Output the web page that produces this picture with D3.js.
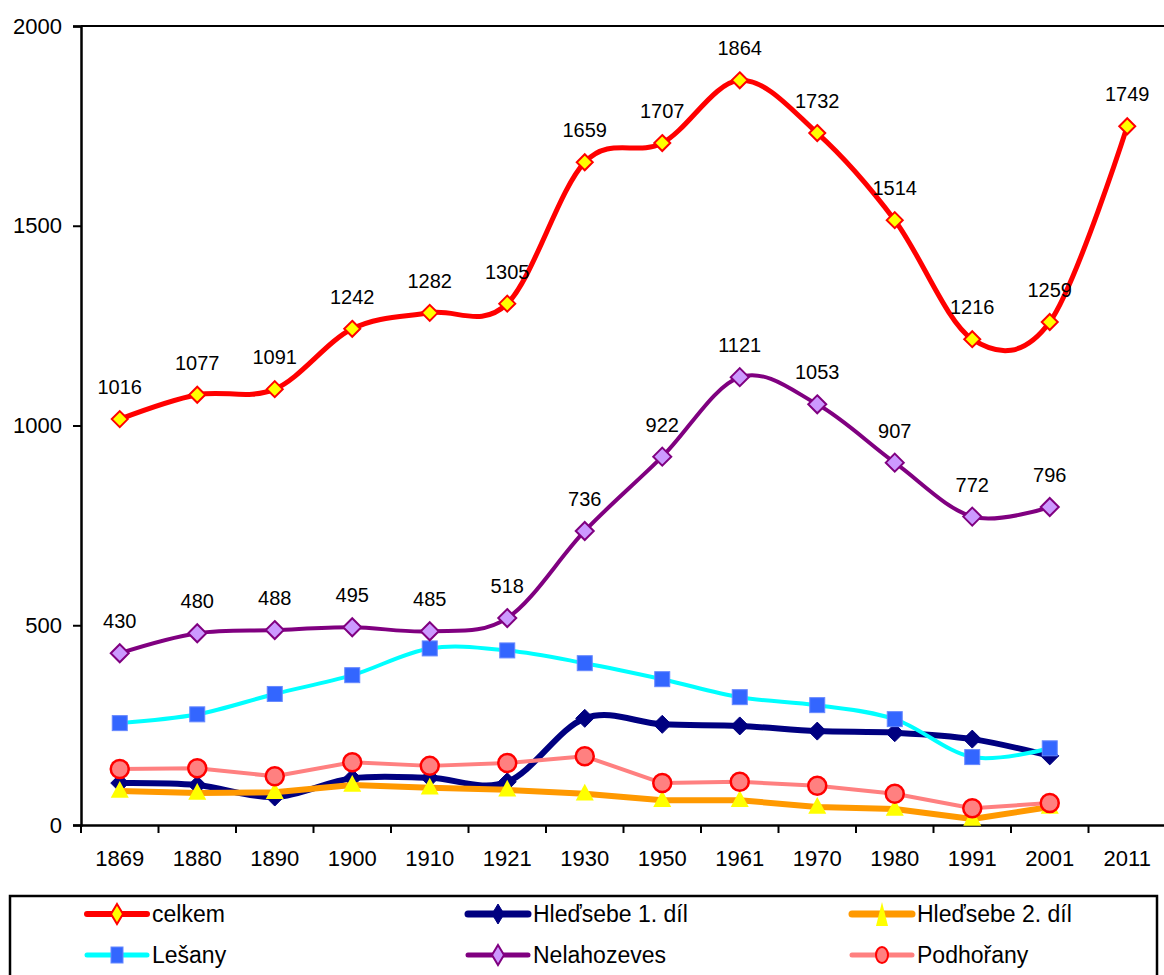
<!DOCTYPE html>
<html>
<head>
<meta charset="utf-8">
<script src="https://cdn.jsdelivr.net/npm/d3@7"></script>
<style>
  html, body { margin: 0; padding: 0; background: #fff; }
  svg { display: block; font-family: Arial, "Liberation Sans", sans-serif; }
</style>
</head>
<body>
<svg id="chart" width="1164" height="975"></svg>
<script>
const years = ["1869","1880","1890","1900","1910","1921","1930","1950","1961","1970","1980","1991","2001","2011"];
const yTicks = [0, 500, 1000, 1500, 2000];

const celkem       = [1016,1077,1091,1242,1282,1305,1659,1707,1864,1732,1514,1216,1259,1749];
const hledsebe1    = [105,100,70,117,118,108,267,252,248,235,231,215,173,null];
const hledsebe2    = [85,80,82,100,93,88,78,62,62,45,40,15,45,null];
const lesany       = [255,277,328,375,442,437,405,365,320,300,265,170,192,null];
const nelahozeves  = [430,480,488,495,485,518,736,922,1121,1053,907,772,796,null];
const podhorany    = [140,142,122,157,148,155,172,105,108,98,78,42,55,null];

const seriesNames = ["celkem","Hleďsebe 1. díl","Hleďsebe 2. díl","Lešany","Nelahozeves","Podhořany"];

const styles = [
  {data: celkem, line: "#ff0000", width: 5, marker: "diamond", size: 8, fill: "#ffff00", stroke: "#ff0000", sw: 2, smooth: true, labels: true},
  {data: hledsebe1, line: "#000080", width: 6, marker: "diamond", size: 9, fill: "#000080", stroke: "#000080", sw: 1, smooth: true, labels: false},
  {data: hledsebe2, line: "#ff9900", width: 6, marker: "triangle", size: 9, fill: "#ffff00", stroke: "none", sw: 0, smooth: false, labels: false},
  {data: lesany, line: "#00ffff", width: 4, marker: "square", size: 7.5, fill: "#3366ff", stroke: "#6688ff", sw: 1, smooth: true, labels: false},
  {data: nelahozeves, line: "#800080", width: 4, marker: "diamond", size: 9, fill: "#cc99ff", stroke: "#800080", sw: 2, smooth: true, labels: true},
  {data: podhorany, line: "#ff8080", width: 4, marker: "circle", size: 9, fill: "#ff8080", stroke: "#ff0000", sw: 2.5, smooth: false, labels: false}
];

const svg = d3.select("#chart");
const plotLeft = 81, plotRight = 1166, plotTop = 26, plotBottom = 825;

const x = d3.scaleBand().domain(years).range([plotLeft, plotRight]).padding(0);
const y = d3.scaleLinear().domain([0, 2000]).range([plotBottom, plotTop]);

// top border of plot
svg.append("line").attr("x1", plotLeft).attr("x2", 1164).attr("y1", plotTop).attr("y2", plotTop)
  .attr("stroke", "#000").attr("stroke-width", 2);

// y axis
const yAxis = svg.append("g").attr("transform", `translate(${plotLeft},0)`)
  .call(d3.axisLeft(y).tickValues(yTicks).tickSize(8).tickPadding(11).tickFormat(d3.format("d")));
yAxis.select(".domain").attr("stroke", "#000").attr("stroke-width", 2.5);
yAxis.selectAll(".tick line").attr("stroke", "#000").attr("stroke-width", 2);
yAxis.selectAll("text").attr("font-size", 22).attr("fill", "#000").attr("font-family", "Arial, 'Liberation Sans', sans-serif");

// x axis
const xAxis = svg.append("g").attr("transform", `translate(0,${plotBottom})`)
  .call(d3.axisBottom(x).tickSize(0).tickPadding(25));
xAxis.select(".domain").attr("stroke", "#000").attr("stroke-width", 2.5);
xAxis.selectAll("text").attr("font-size", 22).attr("fill", "#000").attr("font-family", "Arial, 'Liberation Sans', sans-serif");
// tick marks at band boundaries
const boundaries = years.map(d => x(d));
svg.append("g").selectAll("line").data(boundaries).join("line")
  .attr("x1", d => d).attr("x2", d => d).attr("y1", plotBottom).attr("y2", plotBottom + 8)
  .attr("stroke", "#000").attr("stroke-width", 2);

const cx = d => x(d) + x.bandwidth() / 2;

function drawMarker(g, type, px, py, s, fill, stroke, sw) {
  if (type === "diamond") {
    g.append("path").attr("d", `M${px},${py - s}L${px + s},${py}L${px},${py + s}L${px - s},${py}Z`)
      .attr("fill", fill).attr("stroke", stroke).attr("stroke-width", sw).attr("stroke-linejoin", "miter");
  } else if (type === "square") {
    g.append("rect").attr("x", px - s).attr("y", py - s).attr("width", 2 * s).attr("height", 2 * s)
      .attr("fill", fill).attr("stroke", stroke).attr("stroke-width", sw);
  } else if (type === "triangle") {
    g.append("path").attr("d", `M${px},${py - s - 1}L${px + s},${py + s * 0.75}L${px - s},${py + s * 0.75}Z`)
      .attr("fill", fill);
  } else if (type === "circle") {
    g.append("circle").attr("cx", px).attr("cy", py).attr("r", s)
      .attr("fill", fill).attr("stroke", stroke).attr("stroke-width", sw);
  }
}

styles.forEach((st) => {
  const pts = years.map((yr, i) => ({yr, v: st.data[i]})).filter(p => p.v != null);
  const g = svg.append("g");
  const line = d3.line().x(p => cx(p.yr)).y(p => y(p.v))
    .curve(st.smooth ? d3.curveCardinal.tension(0) : d3.curveLinear);
  g.append("path").datum(pts).attr("d", line).attr("fill", "none")
    .attr("stroke", st.line).attr("stroke-width", st.width)
    .attr("stroke-linejoin", "round").attr("stroke-linecap", "round");
  pts.forEach(p => drawMarker(g, st.marker, cx(p.yr), y(p.v), st.size, st.fill, st.stroke, st.sw));
});

// data labels
styles.filter(s => s.labels).forEach(st => {
  const pts = years.map((yr, i) => ({yr, v: st.data[i]})).filter(p => p.v != null);
  svg.append("g").selectAll("text").data(pts).join("text")
    .attr("x", p => cx(p.yr)).attr("y", p => y(p.v) - 25)
    .attr("text-anchor", "middle").attr("font-size", 20).attr("fill", "#000")
    .text(p => p.v);
});

// legend
const lg = svg.append("g");
lg.append("rect").attr("x", 10).attr("y", 896).attr("width", 1147).attr("height", 100)
  .attr("fill", "#fff").attr("stroke", "#000").attr("stroke-width", 2.5);
const colX = [87, 468, 852];
const rowY = [914, 955];
styles.forEach((st, i) => {
  const c = i % 3, r = Math.floor(i / 3);
  const x0 = colX[c], y0 = rowY[r];
  lg.append("line").attr("x1", x0).attr("x2", x0 + 60).attr("y1", y0).attr("y2", y0)
    .attr("stroke", st.line).attr("stroke-width", st.width + 1).attr("stroke-linecap", "round");
  if (st.marker === "square") {
    lg.append("rect").attr("x", x0 + 30 - 6).attr("y", y0 - 8).attr("width", 12).attr("height", 16)
      .attr("fill", st.fill).attr("stroke", st.stroke).attr("stroke-width", 1);
  } else if (st.marker === "circle") {
    lg.append("ellipse").attr("cx", x0 + 30).attr("cy", y0).attr("rx", 6).attr("ry", 8)
      .attr("fill", st.fill).attr("stroke", st.stroke).attr("stroke-width", 2);
  } else if (st.marker === "triangle") {
    lg.append("path").attr("d", `M${x0 + 30},${y0 - 12}L${x0 + 36},${y0 + 12}L${x0 + 24},${y0 + 12}Z`).attr("fill", st.fill);
  } else {
    lg.append("path").attr("d", `M${x0 + 30},${y0 - 10}L${x0 + 36},${y0}L${x0 + 30},${y0 + 10}L${x0 + 24},${y0}Z`)
      .attr("fill", st.fill).attr("stroke", st.stroke).attr("stroke-width", st.sw);
  }
  lg.append("text").attr("x", x0 + 65).attr("y", y0 + 8).attr("font-size", 23).attr("fill", "#000")
    .text(seriesNames[i]);
});
</script>
</body>
</html>
